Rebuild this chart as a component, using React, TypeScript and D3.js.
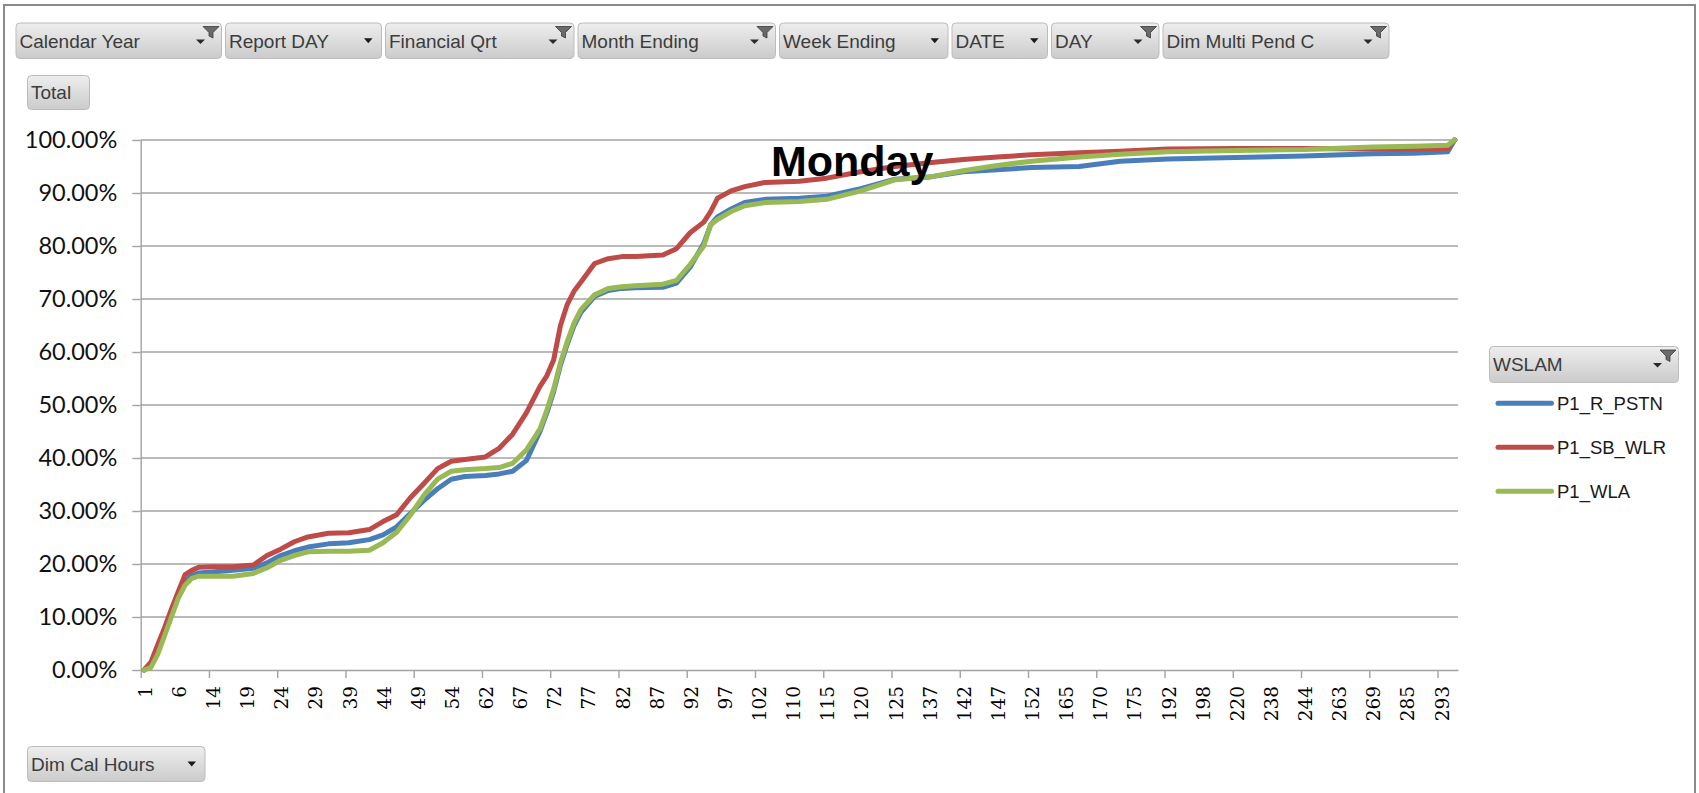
import * as React from "react";
import * as d3 from "d3";

// page field buttons along the top
const pageFields: string[] = ["Calendar Year", "Report DAY", "Financial Qrt", "Month Ending", "Week Ending", "DATE", "DAY", "Dim Multi Pend C"];
const pageFieldFiltered: boolean[] = [true, false, true, true, false, false, true, true];
const pageFieldWidths: number[] = [206.5, 157, 189.5, 198.5, 169.5, 96.5, 108.5, 227];

// category axis (Dim Cal Hours): every 5th category carries a label
const hourLabels: string[] = [
  "1", "6", "14", "19", "24", "29", "39", "44", "49", "54",
  "62", "67", "72", "77", "82", "87", "92", "97", "102", "110",
  "115", "120", "125", "137", "142", "147", "152", "165", "170", "175",
  "192", "198", "220", "238", "244", "263", "269", "285", "293"
];
const categoryCount: number = 193;
const labelStep: number = 5;
const tickStep: number = 10;

const yTicks: number[] = [0, 10, 20, 30, 40, 50, 60, 70, 80, 90, 100];

// category index of each reading
const sampleIdx: number[] = [
  0, 1, 2, 3, 4, 5, 6, 7, 8, 10, 13, 16, 18, 20, 22, 24, 27, 30, 33, 35,
  37, 39, 41, 43, 45, 47, 50, 52, 54, 56, 58, 59, 60, 61, 62, 63, 64, 66, 68, 70,
  72, 76, 78, 80, 82, 83, 84, 86, 88, 91, 96, 100, 105, 110, 115, 120, 125, 130, 137, 143,
  150, 160, 170, 180, 186, 191, 192
];

const pstn: number[] = [
  0, 0.8, 3.5, 7.0, 10.5, 14.2, 16.8, 17.8, 18.3, 18.5, 18.8, 19.2, 20.2, 21.6, 22.5, 23.2, 23.8, 24.0, 24.6, 25.5,
  27.0, 29.5, 32.0, 34.2, 36.0, 36.5, 36.7, 37.0, 37.5, 39.5, 45.0, 48.5, 52.5, 57.5, 61.5, 65.0, 67.5, 70.5, 71.6, 72.0,
  72.1, 72.2, 73.0, 76.0, 80.5, 84.0, 85.5, 87.0, 88.2, 88.8, 89.0, 89.4, 90.8, 92.6, 93.0, 94.0, 94.4, 94.8, 95.0, 96.0,
  96.4, 96.7, 97.0, 97.4, 97.5, 97.8, 100
];

const sbWlr: number[] = [
  0, 1.5, 4.8, 8.0, 11.5, 14.8, 18.0, 18.8, 19.4, 19.5, 19.5, 19.8, 21.6, 22.8, 24.2, 25.1, 25.8, 25.9, 26.5, 28.0,
  29.3, 32.5, 35.2, 38.0, 39.4, 39.7, 40.2, 41.8, 44.5, 48.5, 53.5, 55.5, 58.5, 65.0, 69.0, 71.5, 73.2, 76.7, 77.6, 78.0,
  78.0, 78.3, 79.5, 82.5, 84.5, 86.5, 89.0, 90.4, 91.2, 92.0, 92.2, 92.8, 94.0, 95.0, 95.7, 96.3, 96.8, 97.2, 97.6, 97.9,
  98.3, 98.4, 98.4, 98.3, 98.3, 98.4, 100
];

const wla: number[] = [
  0, 0.5, 3.0, 6.5, 10.0, 13.5, 16.0, 17.3, 17.7, 17.7, 17.7, 18.2, 19.3, 20.7, 21.6, 22.3, 22.4, 22.4, 22.6, 24.0,
  26.0, 29.2, 33.0, 36.0, 37.5, 37.8, 38.0, 38.2, 39.0, 41.5, 45.5, 49.0, 53.0, 58.0, 62.0, 65.5, 68.0, 70.8, 72.0, 72.3,
  72.5, 72.8, 73.5, 76.5, 80.0, 84.0, 85.0, 86.5, 87.6, 88.2, 88.4, 88.8, 90.4, 92.5, 93.0, 94.2, 95.2, 96.0, 96.8, 97.3,
  97.8, 98.0, 98.2, 98.7, 98.8, 99.0, 100
];

const seriesNames: string[] = ["P1_R_PSTN", "P1_SB_WLR", "P1_WLA"];
const seriesColors: string[] = ["#4A7EBB", "#BE4B48", "#98B954"];
const seriesValues: number[][] = [pstn, sbWlr, wla];

type Margin = {
  top: number;
  bottom: number;
  left: number;
  right: number;
};

type Sel = d3.Selection<SVGGElement, unknown, null, undefined>;

const WIDTH: number = 1699;
const HEIGHT: number = 793;
const SANS: string = "'Liberation Sans', Arial, sans-serif";

export default class App extends React.PureComponent<{}> {
  private svgRef: React.RefObject<SVGSVGElement | null> = React.createRef<SVGSVGElement>();
  private plot: Margin = {
    left: 140.7,
    right: 1458,
    top: 140,
    bottom: 670
  };

  public componentDidMount(): void {
    this.drawChart();
  }

  public render(): JSX.Element {
    return <svg ref={this.svgRef}
              width={WIDTH}
              height={HEIGHT}
              style={{ position: "absolute", left: 0, top: 0, display: "block", background: "#ffffff" }}/>;
  }

  private drawChart(): void {
    const svg = d3.select(this.svgRef.current as SVGSVGElement);
    svg.selectAll("*").remove();

    const defs = svg.append("defs");
    const grad = defs.append("linearGradient")
        .attr("id", "btnGrad")
        .attr("x1", "0%").attr("y1", "0%")
        .attr("x2", "0%").attr("y2", "100%");
    grad.append("stop").attr("offset", "0%").attr("stop-color", "#eeeeee");
    grad.append("stop").attr("offset", "100%").attr("stop-color", "#cbcbcb");

    const root: Sel = svg.append("g");

    // outer frame
    root.append("rect")
        .attr("x", 4).attr("y", 5)
        .attr("width", 1691).attr("height", 820)
        .attr("fill", "none")
        .attr("stroke", "#8a8a8a")
        .attr("stroke-width", 2);

    // page fields
    let bx: number = 15.5;
    pageFields.forEach((name: string, k: number) => {
      this.drawButton(root, bx, 22.5, pageFieldWidths[k], 36.5, name, pageFieldFiltered[k] ? "filter" : "drop");
      bx += pageFieldWidths[k] + 3;
    });
    this.drawButton(root, 27, 75, 63, 35, "Total", "none");
    this.drawButton(root, 27, 746, 178.5, 36, "Dim Cal Hours", "drop");

    this.drawAxes(root);
    this.drawLines(root);
    this.drawLegend(root);

    root.append("text")
        .attr("x", 771)
        .attr("y", 176)
        .attr("font-family", SANS)
        .attr("font-weight", "bold")
        .attr("font-size", 43)
        .attr("fill", "#000000")
        .text("Monday");
  }

  private xBand(): d3.ScaleBand<number> {
    return d3.scaleBand<number>()
        .domain(d3.range(categoryCount))
        .range([this.plot.left, this.plot.right])
        .padding(0);
  }

  private yScale(): d3.ScaleLinear<number, number> {
    return d3.scaleLinear()
        .domain([0, 100])
        .range([this.plot.bottom, this.plot.top]);
  }

  private drawAxes(g: Sel): void {
    const y = this.yScale();
    const x = this.xBand();
    const bw: number = x.bandwidth();

    // gridlines
    g.append("g")
        .selectAll("line")
        .data(yTicks.filter((t: number) => t > 0))
        .join("line")
        .attr("x1", this.plot.left)
        .attr("x2", this.plot.right)
        .attr("y1", (d: number) => y(d))
        .attr("y2", (d: number) => y(d))
        .attr("stroke", "#a3a3a3")
        .attr("stroke-width", 1.4);

    const yAxis = d3.axisLeft(y)
        .tickValues(yTicks)
        .tickFormat((d: d3.NumberValue) => `${d3.format(".2f")(+d)}%`)
        .tickSize(8.4)
        .tickSizeOuter(0)
        .tickPadding(15);

    const ya = g.append("g")
        .attr("transform", `translate(${this.plot.left},0)`)
        .call(yAxis);
    ya.selectAll("path, line").attr("stroke", "#a3a3a3").attr("stroke-width", 1.4);
    ya.selectAll("text")
        .attr("font-family", "Lato, 'Liberation Sans', sans-serif")
        .attr("font-size", 23.5)
        .attr("fill", "#111111");

    // category axis: ticks every 10 categories at the band edges
    const xEdge = d3.scaleLinear()
        .domain([0, categoryCount])
        .range([this.plot.left, this.plot.right]);
    const tickVals: number[] = d3.range(0, categoryCount, tickStep);
    const xAxis = d3.axisBottom(xEdge)
        .tickValues(tickVals)
        .tickFormat(() => "")
        .tickSize(8)
        .tickSizeOuter(0);
    const xa = g.append("g")
        .attr("transform", `translate(0,${this.plot.bottom})`)
        .call(xAxis);
    xa.selectAll("path, line").attr("stroke", "#a3a3a3").attr("stroke-width", 1.4);

    g.append("g")
        .selectAll("text")
        .data(hourLabels)
        .join("text")
        .attr("transform", (d: string, k: number) =>
          `translate(${(x(k * labelStep) as number) + bw / 2 + 1},${this.plot.bottom + 16}) rotate(-90)`)
        .attr("text-anchor", "end")
        .attr("dy", "0.36em")
        .attr("font-family", "'DejaVu Serif', serif")
        .attr("font-size", 18.5)
        .attr("fill", "#000000")
        .text((d: string) => d);
  }

  private drawLines(g: Sel): void {
    const y = this.yScale();
    const x = this.xBand();
    const bw: number = x.bandwidth();

    const line = d3.line<number>()
        .x((d: number, k: number) => (x(sampleIdx[k]) as number) + bw / 2)
        .y((d: number) => y(d));

    seriesValues.forEach((vals: number[], s: number) => {
      g.append("path")
          .attr("d", line(vals))
          .attr("fill", "none")
          .attr("stroke", seriesColors[s])
          .attr("stroke-width", 5)
          .attr("stroke-linejoin", "round")
          .attr("stroke-linecap", "round");
    });
  }

  private drawLegend(g: Sel): void {
    this.drawButton(g, 1489, 346, 190, 37, "WSLAM", "filter");
    const item = g.append("g")
        .selectAll("g")
        .data(seriesNames)
        .join("g")
        .attr("transform", (d: string, k: number) => `translate(1498,${403.3 + k * 44})`);
    item.append("line")
        .attr("x1", 0).attr("x2", 53.5)
        .attr("y1", 0).attr("y2", 0)
        .attr("stroke", (d: string, k: number) => seriesColors[k])
        .attr("stroke-width", 5)
        .attr("stroke-linecap", "round");
    item.append("text")
        .attr("x", 59)
        .attr("dy", "0.36em")
        .attr("font-family", SANS)
        .attr("font-size", 18.5)
        .attr("fill", "#1a1a1a")
        .text((d: string) => d);
  }

  private drawButton(parent: Sel, x: number, y: number, w: number, h: number,
                     label: string, icon: "filter" | "drop" | "none"): void {
    const g = parent.append("g").attr("transform", `translate(${x},${y})`);
    g.append("rect")
        .attr("x", 0.5).attr("y", 0.5)
        .attr("width", w - 1).attr("height", h - 1)
        .attr("rx", 4)
        .attr("fill", "url(#btnGrad)")
        .attr("stroke", "#bcbcbc");
    g.append("text")
        .attr("x", 4)
        .attr("y", h / 2)
        .attr("dy", "0.36em")
        .attr("font-family", SANS)
        .attr("font-size", 19)
        .attr("fill", "#3c3c3c")
        .text(label);

    if (icon === "filter") {
      // funnel plus the small dropdown arrow at its lower left
      g.append("path")
          .attr("d", `M${w - 19},4 L${w - 3},4 L${w - 9},10 L${w - 9},15.5 L${w - 13},13.5 L${w - 13},10 Z`)
          .attr("fill", "#6a6a6a")
          .attr("stroke", "#3a3a3a")
          .attr("stroke-width", 0.8);
      g.append("path")
          .attr("d", `M${w - 26},17 L${w - 17},17 L${w - 21.5},21.5 Z`)
          .attr("fill", "#2a2a2a");
    } else if (icon === "drop") {
      g.append("path")
          .attr("d", `M${w - 18},${h / 2 - 2.5} L${w - 9.5},${h / 2 - 2.5} L${w - 13.75},${h / 2 + 2.5} Z`)
          .attr("fill", "#1a1a1a");
    }
  }
}
